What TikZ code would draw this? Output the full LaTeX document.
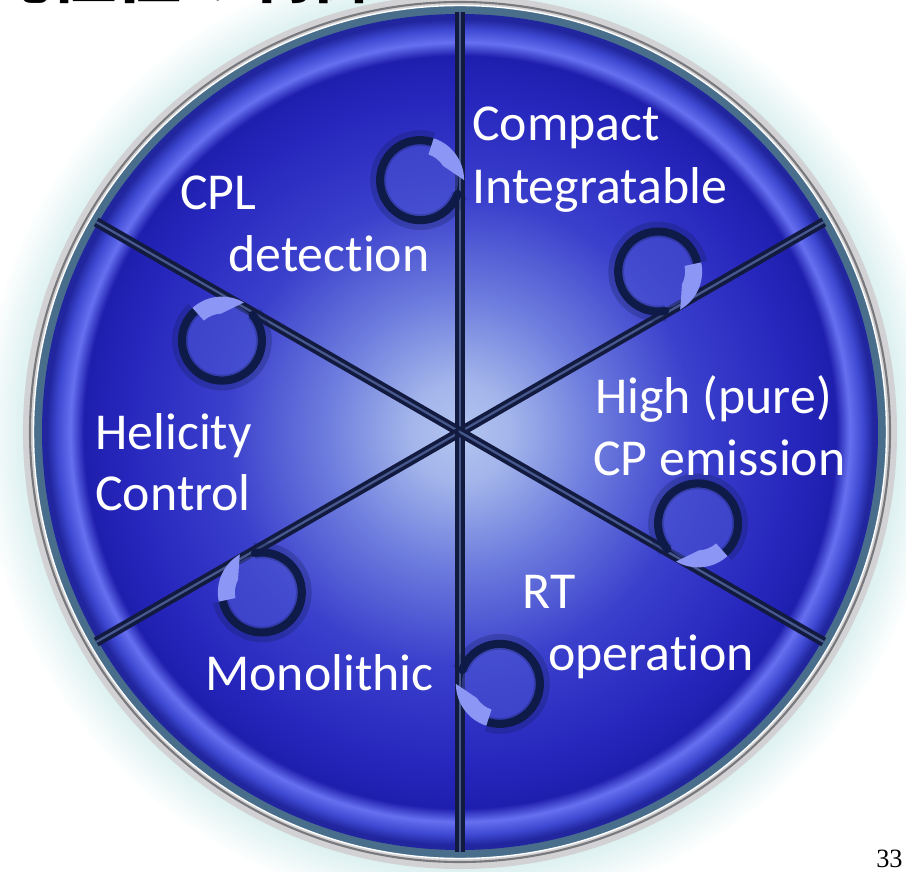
\documentclass[tikz,border=0pt]{standalone}
\usepackage{fontspec}
\usetikzlibrary{calc}
\setmainfont{Carlito}[Ligatures=NoCommon]
\newfontfamily\jpfont{Noto Sans CJK JP}
\newfontfamily\pagefont{Liberation Serif}

\definecolor{rimteal}{RGB}{72,110,140}
\definecolor{ringgrey}{RGB}{210,210,212}
\definecolor{ringdark}{RGB}{120,120,125}
\definecolor{spokedark}{RGB}{18,26,64}
\definecolor{spokelight}{RGB}{70,88,140}
\definecolor{coildark}{RGB}{14,26,72}
\definecolor{coillight}{RGB}{140,150,245}
\definecolor{iconfill}{RGB}{80,90,212}

% disc: light centre, deep blue body, bevel near the rim
\pgfdeclareradialshading{disc}{\pgfpointorigin}{%
  rgb(0bp)=(0.70,0.77,0.94);
  rgb(3bp)=(0.64,0.71,0.92);
  rgb(8bp)=(0.43,0.49,0.87);
  rgb(14bp)=(0.23,0.25,0.80);
  rgb(20bp)=(0.15,0.15,0.74);
  rgb(22.5bp)=(0.12,0.12,0.68);
  rgb(23.3bp)=(0.40,0.44,0.94);
  rgb(24.1bp)=(0.24,0.28,0.82);
  rgb(24.7bp)=(0.13,0.15,0.62);
  rgb(25bp)=(0.13,0.15,0.62);
  rgb(50bp)=(0.13,0.15,0.62)}
% soft glow round the plate
\pgfdeclareradialshading{halo}{\pgfpointorigin}{%
  rgb(0bp)=(0.85,0.93,0.94);
  rgb(22.6bp)=(0.86,0.94,0.94);
  rgb(25bp)=(1,1,1);
  rgb(50bp)=(1,1,1)}

\begin{document}
\begin{tikzpicture}[x=0.02cm,y=0.02cm,
  sectortext/.style={text=white,font=\fontsize{29.5}{35.7}\selectfont,inner sep=0pt,anchor=base west},
  spoke/.style={line width=5.5pt,color=spokedark},
  coil/.style={line width=4.6pt,color=coildark,line cap=round}]
  \useasboundingbox (-460,-440) rectangle (446,432);
  \clip (-460,-440) rectangle (446,432);

  % plate and rim
  \shade[shading=halo] (0,0) circle [radius=480];
  \fill[rimteal] (0,0) circle [radius=427];
  \draw[line width=5.7pt,ringgrey] (0,0) circle [radius=432];
  \draw[line width=1.2pt,ringdark] (0,0) circle [radius=430];
  \draw[line width=0.8pt,white] (0,0) circle [radius=426.5];
  \shade[shading=disc] (0,0) circle [radius=418];

  % six spokes
  \coordinate (c) at (0,0);
  \foreach \k in {0,...,5} {
    \coordinate (e\k) at (30+60*\k:420);
    \draw[spoke] (c) -- (e\k);
    \draw[line width=1.3pt,spokelight] (c) -- (e\k);
  }

  % circular arrows, one per sector
  \foreach \k in {0,...,5} {
    \pgfmathsetmacro\t{-60*\k}
    \pgfmathsetmacro\sa{\t+72}
    \pgfmathsetmacro\ea{\t+340}
    \pgfmathsetmacro\ta{\t+32}
    \coordinate (i\k) at (99-60*\k:255);
    \fill[iconfill,opacity=0.45] (i\k) circle [radius=38];
    \draw[coildark,line width=9pt,opacity=0.25] ($(i\k)+(\sa:42)$) arc [start angle=\sa,end angle=\ea,radius=42];
    \draw[coil] ($(i\k)+(\sa:40)$) arc [start angle=\sa,end angle=\ea,radius=40];
    \fill[coillight] ($(i\k)+(\sa:44)$) arc [start angle=\sa,end angle=\t,radius=44]
      -- ($(i\k)+(\ta:27)$) arc [start angle=\ta,end angle=\sa,radius=27] -- cycle;
  }

  % sector texts
  \node[sectortext] (cpl)  at (-280,222) {CPL};
  \node[sectortext] (det)  at (-232,160) {detection};
  \node[sectortext] (cmp)  at (12,291)   {Compact};
  \node[sectortext] (itg)  at (12,228)   {Integratable};
  \node[sectortext] (high) at (135,18)   {High (pure)};
  \node[sectortext] (cpe)  at (133,-43)  {CP emission};
  \node[sectortext] (rt)   at (62,-176)  {RT};
  \node[sectortext] (op)   at (88,-238)  {operation};
  \node[sectortext] (mono) at (-255,-258) {Monolithic};
  \node[sectortext] (hel)  at (-365,-17) {Helicity};
  \node[sectortext] (ctl)  at (-365,-78) {Control};

  % heading and page number
  \node[font=\jpfont\bfseries\fontsize{37}{40}\selectfont,inner sep=0pt,anchor=base east] (title) at (-83,434) {偏光極性の制御};
  \node[font=\pagefont\fontsize{15}{18}\selectfont,inner sep=0pt,anchor=base east] (page) at (443,-435) {33};
\end{tikzpicture}
\end{document}
